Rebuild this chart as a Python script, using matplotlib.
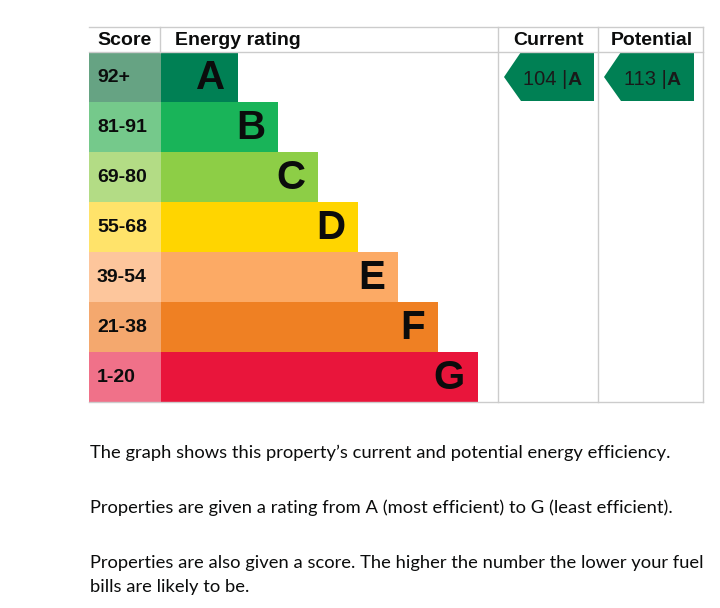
import matplotlib
matplotlib.use("Agg")
import matplotlib.pyplot as plt
from matplotlib.patches import Polygon

# ---- data ----
bands = ["A", "B", "C", "D", "E", "F", "G"]
score_ranges = ["92+", "81-91", "69-80", "55-68", "39-54", "21-38", "1-20"]
bar_colors = ["#008054", "#19b459", "#8dce46", "#ffd500", "#fcaa65", "#ef8023", "#e9153b"]
score_colors = ["#66a383", "#75c98b", "#b3dc85", "#ffe36a", "#fdc69c", "#f4a86e", "#f07189"]
current_score = 104
current_band = "A"
potential_score = 113
potential_band = "A"
headers = ["Score", "Energy rating", "Current", "Potential"]
paragraphs = [
    "The graph shows this property\u2019s current and potential energy efficiency.",
    "Properties are given a rating from A (most efficient) to G (least efficient).",
    "Properties are also given a score. The higher the number the lower your fuel\nbills are likely to be.",
]

W, H = 720, 608
fig = plt.figure(figsize=(W / 100, H / 100), dpi=100)
ax = fig.add_axes([0, 0, 1, 1])
ax.set_xlim(0, W)
ax.set_ylim(H, 0)
ax.axis("off")
renderer = fig.canvas.get_renderer()

# layout
x0, xs, xc, xp, xr = 89, 161, 498, 598, 703
ytop, yhead, row_h = 27, 52, 50
bar_step, bar_min = 40, 77

n = len(bands)
centers = [yhead + row_h * (i + 0.5) for i in range(n)]
widths = [bar_min + bar_step * i for i in range(n)]

ax.barh(centers, [xs - x0] * n, left=x0, height=row_h, color=score_colors, linewidth=0)
ax.barh(centers, widths, left=xs, height=row_h, color=bar_colors, linewidth=0)

bold = dict(family=["Liberation Sans", "DejaVu Sans"], fontweight="bold", color="#0b0c0c")
for i in range(n):
    ax.text(97, centers[i] + 1, score_ranges[i], fontsize=14, va="center", ha="left", **bold)
    ax.text(xs + widths[i] - 13, centers[i] + 1, bands[i], fontsize=29, va="center", ha="right", **bold)

# grid lines
gc = "#cccccc"
ybot = yhead + row_h * n
ax.plot([x0, xr], [ytop, ytop], color=gc, lw=1)
ax.plot([x0, xr], [yhead, yhead], color=gc, lw=1)
ax.plot([x0, xr], [ybot, ybot], color=gc, lw=1)
for xv in (xc, xp, xr):
    ax.plot([xv, xv], [ytop, ybot], color=gc, lw=1)
ax.plot([xs - 1, xs - 1], [ytop, yhead], color=gc, lw=1)

# headers
hy = (ytop + yhead) / 2 + 1
ax.text(97, hy, headers[0], fontsize=14, va="center", ha="left", **bold)
ax.text(175, hy, headers[1], fontsize=14, va="center", ha="left", **bold)
ax.text((xc + xp) / 2, hy, headers[2], fontsize=14, va="center", ha="center", **bold)
ax.text((xp + xr) / 2 + 1, hy, headers[3], fontsize=14, va="center", ha="center", **bold)

# arrows
def arrow(xleft, score, band):
    i = bands.index(band)
    yc = centers[i]
    top, bot = yc - 25, yc + 24
    tip = xleft + 6
    body = tip + 17
    right = xleft + 96
    poly = Polygon([(tip, yc), (body, top), (right, top), (right, bot), (body, bot)],
                   closed=True, color=bar_colors[i], lw=0)
    ax.add_patch(poly)
    base = yc + 8
    t1 = ax.text(0, base, f"{score} |", fontsize=14.5, va="baseline", ha="left",
                 family=["Liberation Sans"], color="#1a1a1a")
    t2 = ax.text(0, base, band, fontsize=14, va="baseline", ha="left",
                 family=["Liberation Sans"], fontweight="bold", color="#1a1a1a")
    w1 = t1.get_window_extent(renderer).width
    w2 = t2.get_window_extent(renderer).width
    cx = xleft + 54
    start = cx - (w1 + w2) / 2
    t1.set_x(start)
    t2.set_x(start + w1)

arrow(xc, current_score, current_band)
arrow(xp, potential_score, potential_band)

# paragraphs
pfont = dict(family=["Lato", "DejaVu Sans"], color="#0b0c0c", fontsize=13.2)
ax.text(90, 453, paragraphs[0], va="center", ha="left", **pfont)
ax.text(90, 508, paragraphs[1], va="center", ha="left", **pfont)
ax.text(90, 575, paragraphs[2], va="center", ha="left", linespacing=1.55, **pfont)

fig.savefig("out.png", dpi=100)
